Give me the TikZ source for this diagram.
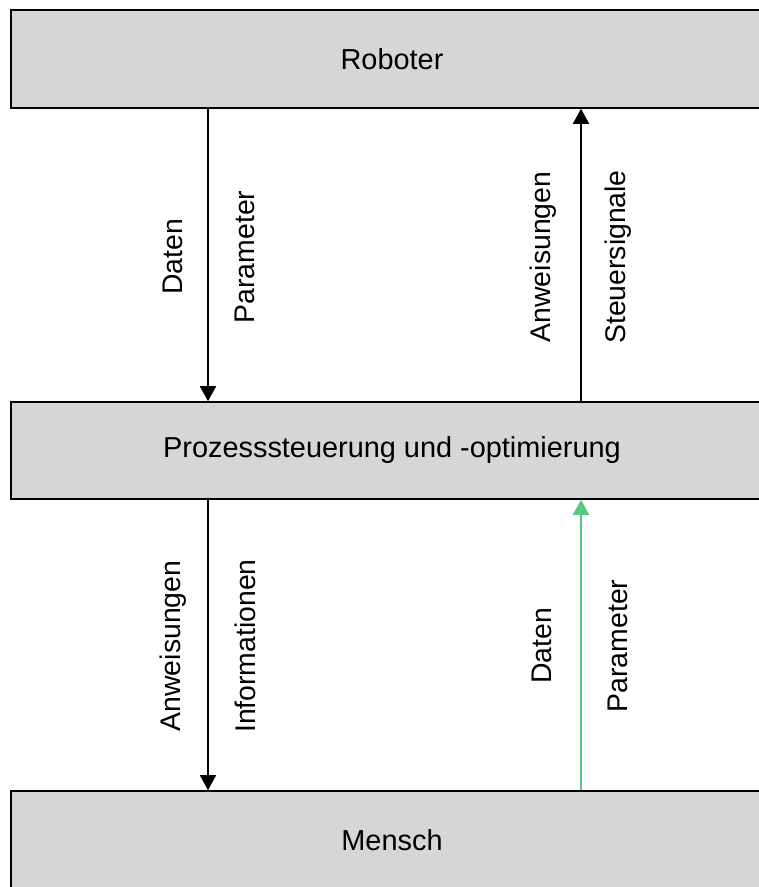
\documentclass[tikz,border=0pt]{standalone}
\usepackage{fontspec}
\setmainfont{Liberation Sans}
\usetikzlibrary{arrows.meta}
\definecolor{boxfill}{RGB}{214,214,214}
\definecolor{flowgreen}{RGB}{88,200,128}
\begin{document}
\begin{tikzpicture}[x=1bp,y=-1bp,
  layer/.style={draw=black,line width=1.6bp,fill=boxfill,rectangle,
    minimum width=762bp,inner sep=0pt,font=\fontsize{29}{33}\selectfont},
  flow/.style={line width=1.8bp,-{Triangle[length=15bp,width=16bp]}},
  tag/.style={rotate=90,inner sep=0pt,font=\fontsize{28.5}{32}\selectfont}]
  \useasboundingbox (0,0) rectangle (759,887);
  \clip (0,0) rectangle (759,887);

  % the three layers
  \node[layer,minimum height=98bp] (robot) at (392,59) {Roboter};
  \node[layer,minimum height=97bp] (ctrl) at (392,450.5) {Prozesssteuerung und -optimierung};
  \node[layer,minimum height=98bp] (human) at (392,840) {Mensch};

  % connector columns
  \coordinate (lx) at (208,0);
  \coordinate (rx) at (581,0);

  % robot <-> control
  \draw[flow] (robot.south -| lx) -- (ctrl.north -| lx);
  \draw[flow] (ctrl.north -| rx) -- (robot.south -| rx);
  \node[tag] (t1) at (173,257) {Daten};
  \node[tag] (t2) at (245,257) {Parameter};
  \node[tag] (t3) at (543,257) {Anweisungen};
  \node[tag] (t4) at (618,257) {Steuersignale};

  % control <-> human
  \draw[flow] (ctrl.south -| lx) -- (human.north -| lx);
  \draw[flow,draw=flowgreen,fill=flowgreen] (human.north -| rx) -- (ctrl.south -| rx);
  \node[tag] (b1) at (173,646) {Anweisungen};
  \node[tag] (b2) at (245,646) {Informationen};
  \node[tag] (b3) at (542,646) {Daten};
  \node[tag] (b4) at (618,646) {Parameter};
\end{tikzpicture}
\end{document}
